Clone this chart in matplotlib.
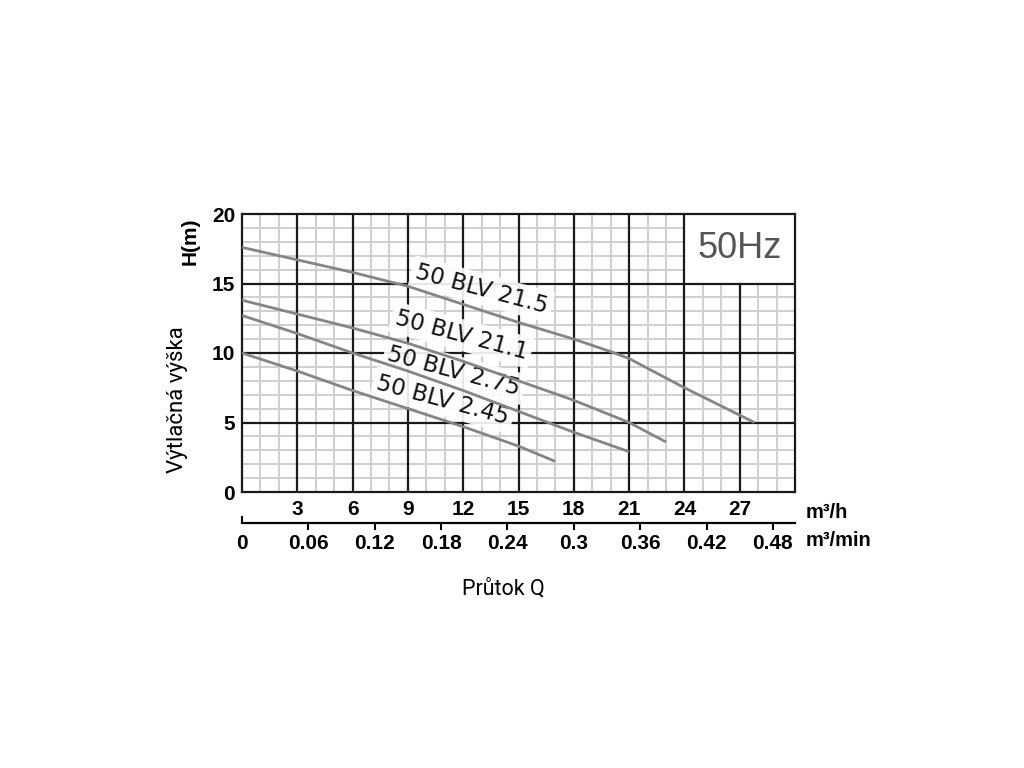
import matplotlib
matplotlib.use("Agg")
import matplotlib.pyplot as plt
from matplotlib.patches import Rectangle

# ---- data ----
q_215 = [0, 3, 6, 9, 12, 15, 18, 20, 21, 24, 27.8]
h_215 = [17.6, 16.7, 15.8, 14.8, 13.5, 12.2, 11.0, 10.1, 9.6, 7.5, 5.0]
q_211 = [0, 3, 6, 9, 12, 15, 18, 21, 23]
h_211 = [13.8, 12.8, 11.8, 10.7, 9.4, 8.0, 6.6, 5.0, 3.6]
q_275 = [0, 3, 6, 9, 12, 15, 18, 21]
h_275 = [12.7, 11.4, 10.0, 8.7, 7.3, 5.8, 4.3, 2.9]
q_245 = [0, 3, 6, 9, 12, 15, 17]
h_245 = [10.0, 8.7, 7.3, 6.0, 4.7, 3.3, 2.2]

series_names = ["50 BLV 21.5", "50 BLV 21.1", "50 BLV 2.75", "50 BLV 2.45"]
label_pos = [(13.0, 14.6), (11.9, 11.3), (11.5, 8.7), (10.9, 6.6)]

x_ticks = [3, 6, 9, 12, 15, 18, 21, 24, 27]
y_ticks = [0, 5, 10, 15, 20]
min_ticks = [0.06, 0.12, 0.18, 0.24, 0.3, 0.36, 0.42, 0.48]
min_labels = ["0.06", "0.12", "0.18", "0.24", "0.3", "0.36", "0.42", "0.48"]

fig = plt.figure(figsize=(10.24, 7.68), dpi=100)
ax = fig.add_axes([242/1024, 1-492/768, (795-242)/1024, (492-214)/768])
ax.set_xlim(0, 30)
ax.set_ylim(0, 20)

# minor grid
for xv in range(1, 30):
    ax.axvline(xv, color="#cfcfcf", lw=1.4, zorder=1)
for yv in range(1, 20):
    ax.axhline(yv, color="#cfcfcf", lw=1.4, zorder=1)

# 50Hz box
ax.add_patch(Rectangle((24, 15), 6, 5, facecolor="white", edgecolor="none", zorder=1.5))
ax.text(27, 17.55, "50Hz", ha="center", va="center", fontsize=26, color="#555555",
        family=["Liberation Sans Narrow", "Liberation Sans"], zorder=3)

# major lines
for xv in x_ticks:
    ymax = 0.75 if xv == 27 else 1.0
    ax.axvline(xv, ymax=ymax, color="#1a1a1a", lw=1.6, zorder=2)
for yv in [5, 10, 15]:
    ax.axhline(yv, color="#1a1a1a", lw=1.6, zorder=2)

# curves
curve_color = "#858585"
for q, h in [(q_215, h_215), (q_211, h_211), (q_275, h_275), (q_245, h_245)]:
    ax.plot(q, h, color=curve_color, lw=2.0, zorder=4, solid_capstyle="butt")

# labels
for name, (lx, ly) in zip(series_names, label_pos):
    ax.text(lx, ly, name, rotation=-15, ha="center", va="center", fontsize=16.5,
            family="DejaVu Sans", color="#111111", zorder=3,
            rotation_mode="anchor",
            bbox=dict(facecolor="white", edgecolor="none", alpha=0.9, pad=3))

for s in ax.spines.values():
    s.set_linewidth(1.6)
    s.set_color("#1a1a1a")

ax.set_xticks(x_ticks, labels=[str(v) for v in x_ticks], fontweight="bold",
              fontsize=15, family="Liberation Sans")
ax.set_yticks(y_ticks, labels=[str(v) for v in y_ticks], fontweight="bold",
              fontsize=15, family="Liberation Sans")
ax.tick_params(axis="both", length=0)
ax.tick_params(axis="x", pad=6)
ax.tick_params(axis="y", pad=5)

# secondary m3/min axis
secax = ax.secondary_xaxis(-0.112, functions=(lambda x: x / 60.0, lambda x: x * 60.0))
secax.set_xticks(min_ticks, labels=min_labels, fontweight="bold", fontsize=15,
                 family="Liberation Sans")
secax.set_xticks([0], labels=["0"], minor=True, fontweight="bold", fontsize=15,
                 family="Liberation Sans")
secax.tick_params(which="major", direction="out", length=5, width=1.5, pad=3)
secax.tick_params(which="minor", direction="in", length=5, width=1.5, pad=8)
secax.spines["bottom"].set_linewidth(1.6)

fig.text(806/1024, 1-513/768, "m³/h", ha="left", va="center", fontsize=14.5,
         fontweight="bold", family="Liberation Sans")
fig.text(806/1024, 1-540/768, "m³/min", ha="left", va="center", fontsize=14.5,
         fontweight="bold", family="Liberation Sans")
fig.text(190/1024, 1-241/768, "H(m)", rotation=90, ha="center", va="center",
         fontsize=15, fontweight="bold", family="Liberation Sans")
fig.text(178/1024, 1-400/768, "Výtlačná výška", rotation=90, ha="center", va="center",
         fontsize=16, family="Roboto")
fig.text(503/1024, 1-589/768, "Průtok Q", ha="center", va="center",
         fontsize=15.5, family="Roboto")

fig.savefig("out.png", dpi=100)
